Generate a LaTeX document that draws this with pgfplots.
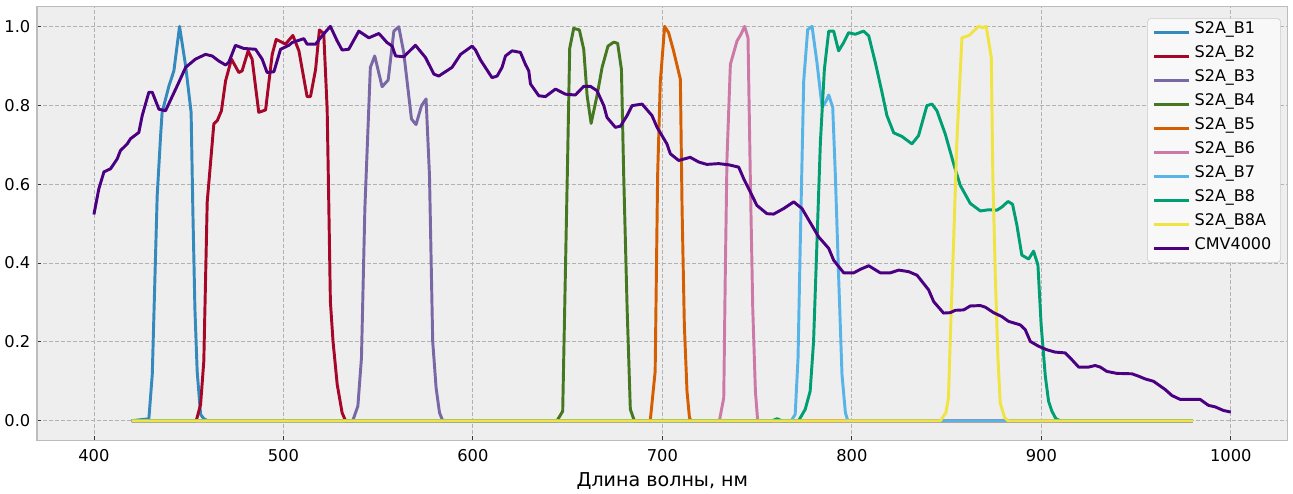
\documentclass[border=0pt]{standalone}
\usepackage{fontspec}
\setmainfont{DejaVu Sans}
\usepackage{pgfplots}
\pgfplotsset{compat=1.18}

\definecolor{cB1}{HTML}{348ABD}
\definecolor{cB2}{HTML}{A60628}
\definecolor{cB3}{HTML}{7A68A6}
\definecolor{cB4}{HTML}{467821}
\definecolor{cB5}{HTML}{D55E00}
\definecolor{cB6}{HTML}{CC79A7}
\definecolor{cB7}{HTML}{56B4E9}
\definecolor{cB8}{HTML}{009E73}
\definecolor{cB8A}{HTML}{F0E442}
\definecolor{cCMV}{HTML}{4B0082}
\definecolor{bmhbg}{HTML}{EEEEEE}
\definecolor{bmhgrid}{HTML}{B2B2B2}
\definecolor{bmhedge}{HTML}{BCBCBC}

\begin{document}
\begin{tikzpicture}
\begin{axis}[
    scale only axis,
    width=937pt, height=325pt,
    xmin=370, xmax=1030, ymin=-0.05, ymax=1.05,
    xtick={400,500,...,1000},
    ytick={0,0.2,...,1.0},
    xticklabel style={/pgf/number format/1000 sep={}, yshift=-3pt},
    yticklabel style={/pgf/number format/fixed, /pgf/number format/fixed zerofill, /pgf/number format/precision=1, xshift=-1.5pt},
    /pgf/number format/assume math mode=true,
    ticklabel style={font=\fontsize{12.2}{14}\selectfont},
    xlabel={Длина волны, нм},
    xlabel style={font=\fontsize{14.3}{16}\selectfont, yshift=-1.5pt},
    axis background/.style={fill=bmhbg},
    axis line style={bmhedge, line width=1pt},
    grid=major,
    major grid style={bmhgrid, line width=0.6pt, dash pattern=on 3pt off 1.5pt},
    tick align=inside,
    xtick pos=lower, ytick pos=left,
    major tick length=3pt,
    tick style={black!80, line width=0.6pt},
    every axis plot/.append style={line width=2.2pt, line join=round},
    legend cell align=left,
    legend image code/.code={\draw[#1, line width=2.4pt] (0pt,0pt) -- (26pt,0pt);},
    legend style={at={(1,1)}, anchor=north east, xshift=-5pt, yshift=-8.5pt,
        fill=white!60!bmhbg, draw=bmhedge!80, rounded corners=3pt,
        font=\fontsize{12}{14}\selectfont, inner xsep=4pt, inner ysep=4.5pt, row sep=6pt,
        nodes={inner xsep=3pt, inner ysep=0pt, text height=7pt, text depth=5pt}},
]
\addplot[cB1] coordinates {(420,0) (429,0.005) (430.8,0.117) (433.4,0.571) (435.2,0.723) (436,0.782) (439.6,0.849) (442.2,0.887) (445.2,1.0) (448.4,0.900) (451.3,0.782) (452.2,0.538) (453.3,0.285) (454.5,0.125) (456.3,0.016) (458,0.005) (460,0) (980,0)};
\addlegendentry{S2A\_B1}
\addplot[cB2] coordinates {(420,0) (454,0) (456.3,0.041) (458,0.151) (459.8,0.555) (463.3,0.753) (465.1,0.761) (467.3,0.786) (469.5,0.862) (472.6,0.917) (476.5,0.883) (478.2,0.887) (481.4,0.938) (483.5,0.917) (487,0.782) (490.6,0.788) (494.1,0.929) (496.2,0.967) (501.1,0.955) (505,0.977) (508.2,0.938) (512.5,0.822) (514.3,0.822) (517,0.891) (519,0.991) (521.3,0.982) (523.1,0.790) (524,0.538) (524.8,0.302) (526.2,0.201) (528.4,0.092) (531,0.020) (532.8,0) (980,0)};
\addlegendentry{S2A\_B2}
\addplot[cB3] coordinates {(420,0) (536.6,0) (539.3,0.037) (541.2,0.159) (543,0.538) (545.9,0.896) (548.2,0.925) (552.1,0.847) (555.3,0.864) (558.3,0.988) (560.9,0.999) (563.5,0.934) (567.6,0.765) (570,0.751) (572.9,0.799) (575.3,0.816) (577.1,0.622) (578.8,0.201) (580.6,0.083) (582.4,0.020) (584.1,0) (980,0)};
\addlegendentry{S2A\_B3}
\addplot[cB4] coordinates {(420,0) (644.4,0) (647.4,0.024) (648.8,0.369) (650,0.664) (651.1,0.944) (653.2,0.995) (656.2,0.991) (658.5,0.942) (660.3,0.824) (662.4,0.754) (665.5,0.824) (668.2,0.896) (671.3,0.950) (674.3,0.960) (676.4,0.957) (678.4,0.891) (679.6,0.622) (681.4,0.285) (683.1,0.029) (685.2,0) (980,0)};
\addlegendentry{S2A\_B4}
\addplot[cB5] coordinates {(420,0) (693.6,0) (696.2,0.125) (697.5,0.622) (698.9,0.858) (701.2,1.0) (703.3,0.984) (705.9,0.938) (709.5,0.866) (710.4,0.538) (711.6,0.243) (713,0.075) (714.3,0.008) (715.1,0) (980,0)};
\addlegendentry{S2A\_B5}
\addplot[cB6] coordinates {(420,0) (730.1,0) (732.4,0.058) (733.2,0.369) (734.1,0.664) (735.9,0.904) (739.4,0.963) (741.5,0.980) (743.4,1.0) (745.2,0.971) (746.4,0.622) (747.7,0.285) (749.1,0.075) (750.3,0) (980,0)};
\addlegendentry{S2A\_B6}
\addplot[cB7] coordinates {(420,0) (768,0) (770.1,0.016) (771.6,0.159) (772.8,0.454) (774.6,0.862) (776.7,0.992) (779,1.0) (781.6,0.908) (784.3,0.795) (786,0.807) (787.8,0.826) (789.9,0.795) (791.3,0.622) (793,0.369) (794.8,0.117) (796.6,0.020) (797.9,0) (980,0)};
\addlegendentry{S2A\_B7}
\addplot[cB8] coordinates {(420,0) (758,0) (760.5,0.005) (763,0) (771.9,0) (775.4,0.029) (778,0.075) (779.8,0.201) (781.6,0.454) (783.4,0.706) (785.5,0.891) (787.8,0.988) (790.4,0.988) (793,0.938) (795.7,0.959) (798.3,0.984) (801.8,0.980) (806.2,0.988) (808.9,0.976) (812.4,0.908) (815.9,0.833) (818.5,0.774) (822.1,0.730) (826.4,0.721) (831.7,0.702) (835.2,0.723) (839.6,0.799) (842.3,0.803) (844.9,0.786) (849.3,0.727) (853.7,0.652) (857.2,0.597) (862.5,0.551) (867.8,0.532) (872.2,0.535) (876.6,0.534) (879.2,0.542) (882.4,0.556) (884.8,0.549) (887.1,0.496) (889.7,0.420) (893.3,0.410) (895.9,0.430) (898.2,0.395) (899.9,0.243) (902.1,0.113) (903.8,0.050) (905.6,0.024) (907.7,0.005) (910,0) (980,0)};
\addlegendentry{S2A\_B8}
\addplot[cB8A] coordinates {(420,0) (846.7,0) (849.6,0.020) (851,0.058) (851.9,0.201) (853.7,0.454) (855.4,0.706) (858.1,0.971) (861.9,0.977) (864.2,0.988) (866.9,1.0) (869,0.997) (870.9,1.0) (873.6,0.921) (874.4,0.622) (875.7,0.369) (877.1,0.159) (878.3,0.045) (880.6,0.008) (882.4,0) (980,0)};
\addlegendentry{S2A\_B8A}
\addplot[cCMV] coordinates {(400,0.523) (402.6,0.588) (405.3,0.631) (408.8,0.639) (412.3,0.664) (414,0.685) (417.6,0.702) (419.3,0.715) (423.7,0.731) (425.5,0.774) (429,0.833) (430.8,0.833) (434.3,0.790) (437.8,0.786) (444.8,0.858) (448.4,0.896) (453.6,0.917) (458.9,0.929) (462.4,0.925) (466,0.912) (469.5,0.902) (471.2,0.909) (474.7,0.952) (479.1,0.944) (485.3,0.942) (488.8,0.917) (491.4,0.883) (495,0.885) (498.5,0.942) (502.9,0.952) (504.6,0.959) (510.8,0.969) (512.5,0.955) (517,0.955) (520.4,0.976) (524.8,1.0) (528.4,0.963) (531,0.940) (534.5,0.942) (539.8,0.988) (545.1,0.971) (550.4,0.982) (554.7,0.959) (557.4,0.950) (559.2,0.925) (563.5,0.923) (569.7,0.952) (575,0.921) (579.4,0.879) (582,0.874) (589,0.896) (593.5,0.929) (599.6,0.950) (601.4,0.940) (604,0.915) (610.1,0.870) (612.8,0.874) (615.4,0.896) (617.2,0.925) (620.7,0.938) (625.1,0.934) (627.7,0.904) (629.5,0.887) (630.4,0.854) (634.8,0.824) (638.3,0.822) (643.6,0.841) (648.9,0.828) (654.1,0.826) (658.5,0.848) (662,0.848) (665.5,0.837) (669.1,0.799) (670.8,0.769) (675.2,0.744) (677.9,0.747) (681.4,0.774) (684,0.799) (689.3,0.803) (694.5,0.774) (697.2,0.744) (702.4,0.702) (704.2,0.677) (708.6,0.660) (714.7,0.668) (719.2,0.656) (723.5,0.650) (729.7,0.652) (735,0.649) (740.3,0.643) (742.9,0.614) (746.4,0.580) (749.9,0.546) (755.2,0.525) (758.7,0.524) (764,0.538) (769.3,0.555) (773.7,0.538) (782.5,0.466) (787.8,0.437) (790.4,0.407) (795.7,0.375) (801,0.375) (804.5,0.384) (808.9,0.393) (815,0.375) (820.3,0.375) (824.7,0.382) (830,0.378) (834.4,0.369) (840.5,0.332) (843.2,0.302) (848.4,0.273) (851.9,0.274) (854.6,0.280) (859,0.281) (862.5,0.291) (867.8,0.292) (870.4,0.288) (874.8,0.274) (879.2,0.264) (882.7,0.252) (888.9,0.243) (891.5,0.231) (894.2,0.201) (898.5,0.189) (902.9,0.180) (907.3,0.174) (912.6,0.172) (915.3,0.159) (919.7,0.136) (924.9,0.136) (928.4,0.140) (931.1,0.136) (934.6,0.125) (939.9,0.120) (947.8,0.119) (951.3,0.113) (954.8,0.106) (959.2,0.100) (965.4,0.079) (968.9,0.064) (973.3,0.054) (983.8,0.054) (988.2,0.039) (991.8,0.035) (996.1,0.026) (1000,0.022)};
\addlegendentry{CMV4000}
\end{axis}
\path ([xshift=4pt,yshift=5pt]current axis.north east);
\end{tikzpicture}
\end{document}
